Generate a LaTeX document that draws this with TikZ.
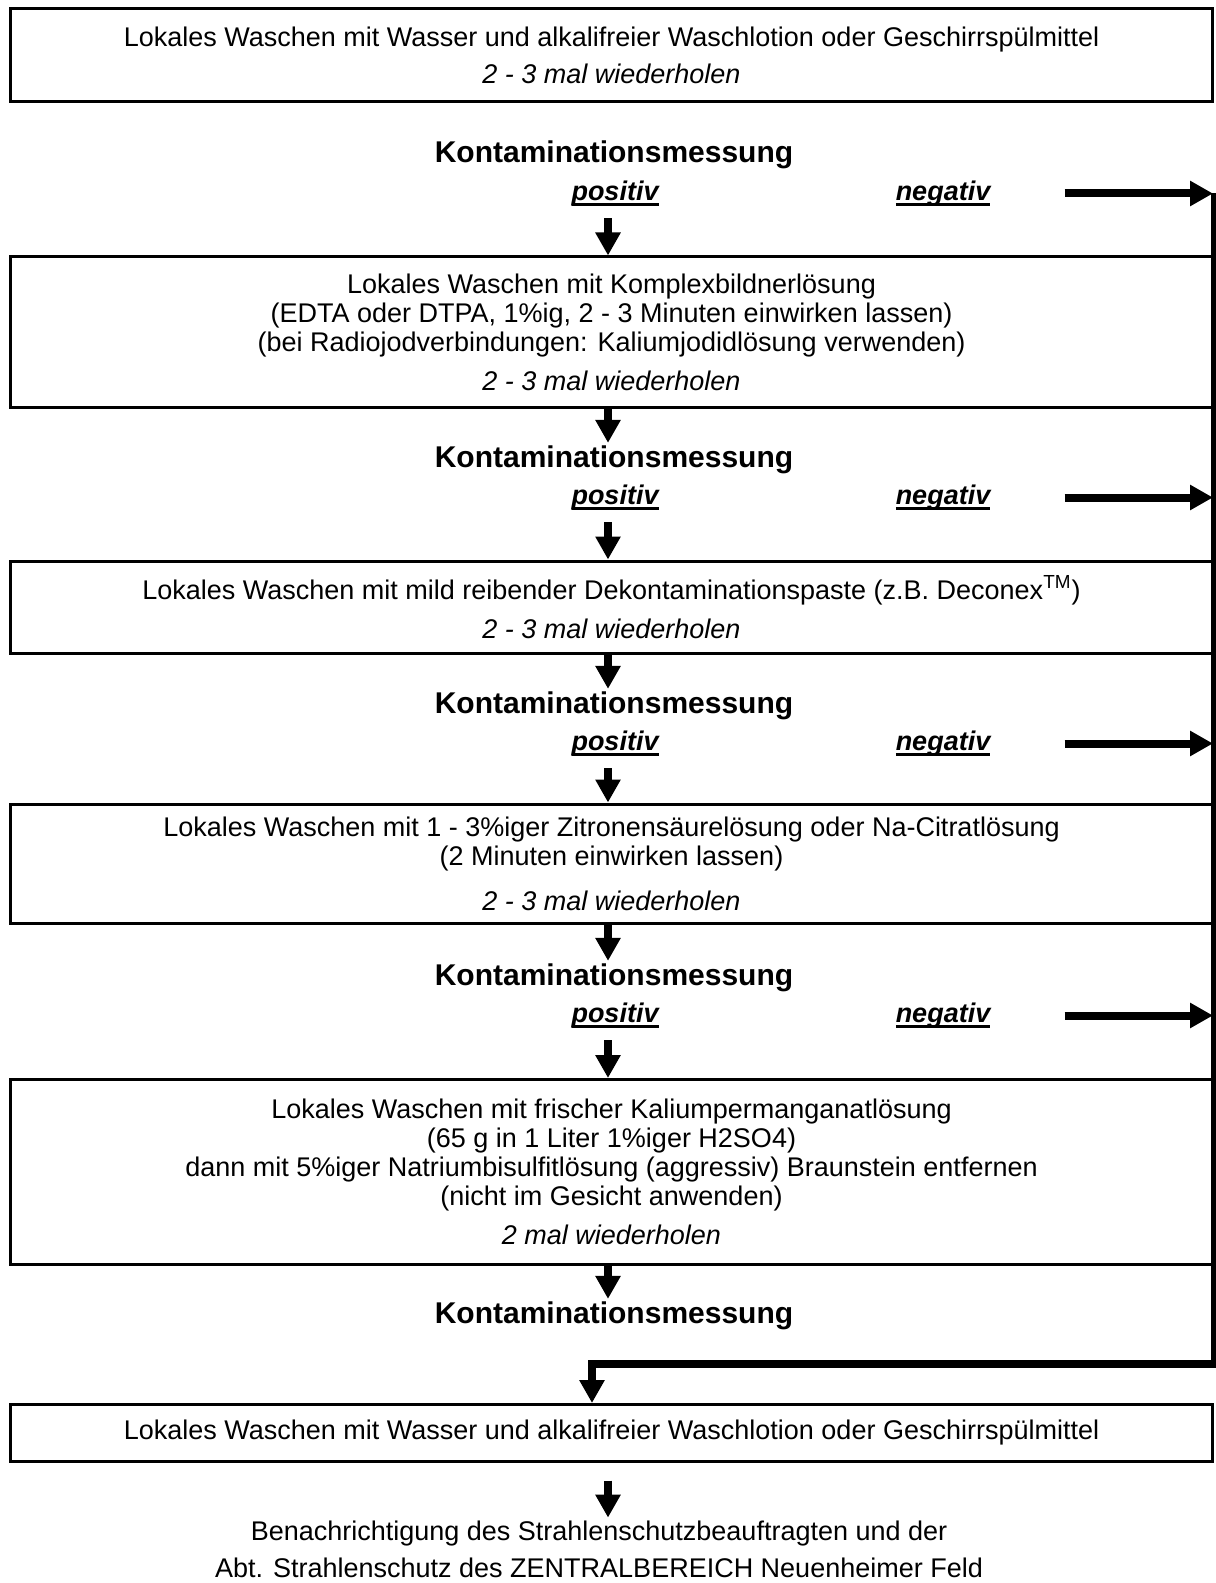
\documentclass[tikz,border=0pt]{standalone}
\usepackage{fontspec}
\setmainfont{Liberation Sans}
\usetikzlibrary{arrows.meta}

% Unterstreichung knapp unter der Grundlinie
\newcommand{\unterstr}[1]{\leavevmode\setbox0=\hbox{#1}\rlap{\vrule height -1.5pt depth 2.8pt width \wd0}\box0}

\tikzset{
  wasch/.style={draw, line width=1.5pt, inner sep=0pt, minimum width=601pt,
    minimum height=#1, align=center, font=\fontsize{13.5}{14.5}\selectfont},
  messung/.style={font=\fontsize{15}{18}\selectfont\bfseries, inner sep=0pt, outer sep=1.2pt},
  ergebnis/.style={font=\fontsize{13.5}{16}\selectfont\bfseries\itshape, inner sep=0pt},
  flow/.style={-{Triangle[width=12pt,length=11.5pt]}, line width=4pt},
}

\begin{document}
\begin{tikzpicture}[x=0.5pt,y=-0.5pt]
\useasboundingbox (0,0) rectangle (1215,1583);

\coordinate (ax) at (608,0);
\coordinate (rail) at (1213,0);
\coordinate (edge) at (1215,0);
\coordinate (turn) at (592,1364);

% Waschschritte
\node[wasch=46.5pt] (b1) at (611.5,55.5) {Lokales Waschen mit Wasser und alkalifreier Waschlotion oder Geschirrspülmittel\\[4pt]\textit{2 - 3 mal wiederholen}};
\node[wasch=75pt] (b2) at (611.5,332) {Lokales Waschen mit Komplexbildnerlösung\\(EDTA oder DTPA, 1\%ig, 2 - 3 Minuten einwirken lassen)\\(bei Radiojodverbindungen: Kaliumjodidlösung verwenden)\\[5pt]\textit{2 - 3 mal wiederholen}};
\node[wasch=46.25pt] (b3) at (611.5,607.25) {Lokales Waschen mit mild reibender Dekontaminationspaste (z.B. Deconex\textsuperscript{TM})\\[5pt]\textit{2 - 3 mal wiederholen}};
\node[wasch=59.75pt] (b4) at (611.5,863.75) {Lokales Waschen mit 1 - 3\%iger Zitronensäurelösung oder Na-Citratlösung\\(2 Minuten einwirken lassen)\\[8pt]\textit{2 - 3 mal wiederholen}};
\node[wasch=92.25pt] (b5) at (611.5,1171.75) {Lokales Waschen mit frischer Kaliumpermanganatlösung\\(65 g in 1 Liter 1\%iger H2SO4)\\dann mit 5\%iger Natriumbisulfitlösung (aggressiv) Braunstein entfernen\\(nicht im Gesicht anwenden)\\[5pt]\textit{2 mal wiederholen}};
\node[wasch=28.25pt] (b6) at (611.5,1432.75) {Lokales Waschen mit Wasser und alkalifreier Waschlotion oder Geschirrspülmittel};

% Messungen
\node[messung, anchor=base] (k1) at (614,163) {Kontaminationsmessung};
\node[messung, anchor=base] (k2) at (614,467) {Kontaminationsmessung};
\node[messung, anchor=base] (k3) at (614,713) {Kontaminationsmessung};
\node[messung, anchor=base] (k4) at (614,985) {Kontaminationsmessung};
\node[messung, anchor=base] (k5) at (614,1323) {Kontaminationsmessung};

\node[ergebnis] (p1) at (615,193.5) {\unterstr{positiv}};
\node[ergebnis] (n1) at (943,193.5) {\unterstr{negativ}};
\node[ergebnis] (p2) at (615,497.5) {\unterstr{positiv}};
\node[ergebnis] (n2) at (943,497.5) {\unterstr{negativ}};
\node[ergebnis] (p3) at (615,743.5) {\unterstr{positiv}};
\node[ergebnis] (n3) at (943,743.5) {\unterstr{negativ}};
\node[ergebnis] (p4) at (615,1015.5) {\unterstr{positiv}};
\node[ergebnis] (n4) at (943,1015.5) {\unterstr{negativ}};

\node[font=\fontsize{13.5}{18.5}\selectfont, align=center, inner sep=0pt, outer sep=1.5pt] (fin) at (599,1549) {Benachrichtigung des Strahlenschutzbeauftragten und der\\Abt. Strahlenschutz des ZENTRALBEREICH Neuenheimer Feld};

% positiv: weiter nach unten
\draw[flow, shorten <=6pt] (p1.south -| ax) -- (b2.north -| ax);
\draw[flow, shorten <=6pt] (p2.south -| ax) -- (b3.north -| ax);
\draw[flow, shorten <=6pt] (p3.south -| ax) -- (b4.north -| ax);
\draw[flow, shorten <=6pt] (p4.south -| ax) -- (b5.north -| ax);

\draw[flow] (b2.south -| ax) -- (k2.north -| ax);
\draw[flow] (b3.south -| ax) -- (k3.north -| ax);
\draw[flow] (b4.south -| ax) -- (k4.north -| ax);
\draw[flow] (b5.south -| ax) -- (k5.north -| ax);

% negativ: nach rechts
\draw[flow, shorten <=37pt] (n1.east) -- (n1 -| rail);
\draw[flow, shorten <=37pt] (n2.east) -- (n2 -| rail);
\draw[flow, shorten <=37pt] (n3.east) -- (n3 -| rail);
\draw[flow, shorten <=37pt] (n4.east) -- (n4 -| rail);
\draw[flow] (n1 -| edge) |- (turn) -- (b6.north -| turn);

\draw[flow, shorten <=9pt] (b6.south -| ax) -- (fin.north -| ax);
\end{tikzpicture}
\end{document}
